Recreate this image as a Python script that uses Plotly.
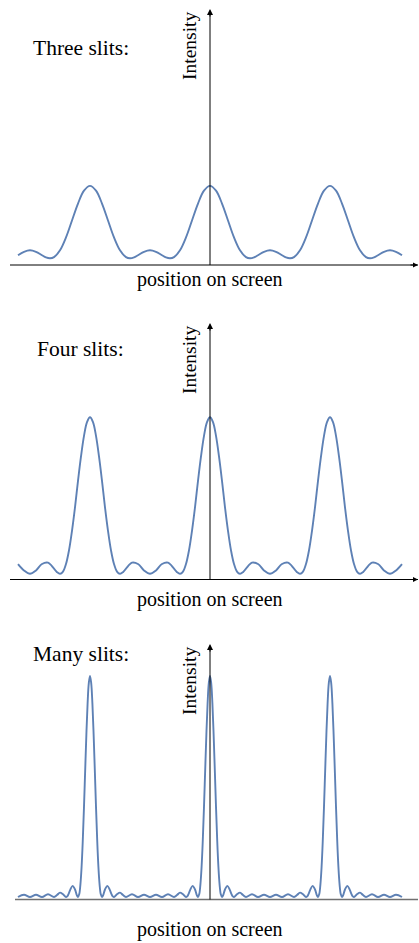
import plotly.graph_objects as go

# ---------------- data ----------------
# position on screen in units of the fringe spacing; intensity in arbitrary units
three_x = [-1.6, -1.55, -1.5, -1.45, -1.4, -1.367, -1.333, -1.3, -1.25, -1.2, -1.15, -1.1, -1.05, -1.0,
           -0.95, -0.9, -0.85, -0.8, -0.75, -0.7, -0.667, -0.633, -0.6, -0.55, -0.5,
           -0.45, -0.4, -0.367, -0.333, -0.3, -0.25, -0.2, -0.15, -0.1, -0.05, 0.0,
           0.05, 0.1, 0.15, 0.2, 0.25, 0.3, 0.333, 0.367, 0.4, 0.45, 0.5,
           0.55, 0.6, 0.633, 0.667, 0.7, 0.75, 0.8, 0.85, 0.9, 0.95, 1.0,
           1.05, 1.1, 1.15, 1.2, 1.25, 1.3, 1.333, 1.367, 1.4, 1.45, 1.5, 1.55, 1.6]
three_y = [0.38, 0.81, 1.0, 0.81, 0.38, 0.11, 0.0, 0.15, 1.0, 2.6, 4.7, 6.8, 8.4, 9.0,
           8.4, 6.8, 4.7, 2.6, 1.0, 0.15, 0.0, 0.11, 0.38, 0.81, 1.0,
           0.81, 0.38, 0.11, 0.0, 0.15, 1.0, 2.6, 4.7, 6.8, 8.4, 9.0,
           8.4, 6.8, 4.7, 2.6, 1.0, 0.15, 0.0, 0.11, 0.38, 0.81, 1.0,
           0.81, 0.38, 0.11, 0.0, 0.15, 1.0, 2.6, 4.7, 6.8, 8.4, 9.0,
           8.4, 6.8, 4.7, 2.6, 1.0, 0.15, 0.0, 0.11, 0.38, 0.81, 1.0, 0.81, 0.38]

four_x = [-1.6, -1.55, -1.5, -1.45, -1.4, -1.35, -1.3, -1.275, -1.25, -1.225, -1.2, -1.175, -1.15,
          -1.125, -1.1, -1.075, -1.05, -1.025,
          -1.0, -0.975, -0.95, -0.925, -0.9, -0.875, -0.85, -0.825, -0.8, -0.775, -0.75, -0.725,
          -0.7, -0.65, -0.6, -0.55, -0.5, -0.45, -0.4, -0.35, -0.3, -0.275, -0.25, -0.225, -0.2,
          -0.175, -0.15, -0.125, -0.1, -0.075, -0.05, -0.025,
          0.0, 0.025, 0.05, 0.075, 0.1, 0.125, 0.15, 0.175, 0.2, 0.225, 0.25, 0.275,
          0.3, 0.35, 0.4, 0.45, 0.5, 0.55, 0.6, 0.65, 0.7, 0.725, 0.75, 0.775, 0.8,
          0.825, 0.85, 0.875, 0.9, 0.925, 0.95, 0.975,
          1.0, 1.025, 1.05, 1.075, 1.1, 1.125, 1.15, 1.175, 1.2, 1.225, 1.25, 1.275,
          1.3, 1.35, 1.4, 1.45, 1.5, 1.55, 1.6]
four_y = [1.0, 0.35, 0.0, 0.35, 1.0, 1.14, 0.53, 0.17, 0.0, 0.23, 1.0, 2.4, 4.4,
          6.8, 9.5, 12.0, 14.1, 15.5,
          16.0, 15.5, 14.1, 12.0, 9.5, 6.8, 4.4, 2.4, 1.0, 0.23, 0.0, 0.17,
          0.53, 1.14, 1.0, 0.35, 0.0, 0.35, 1.0, 1.14, 0.53, 0.17, 0.0, 0.23, 1.0,
          2.4, 4.4, 6.8, 9.5, 12.0, 14.1, 15.5,
          16.0, 15.5, 14.1, 12.0, 9.5, 6.8, 4.4, 2.4, 1.0, 0.23, 0.0, 0.17,
          0.53, 1.14, 1.0, 0.35, 0.0, 0.35, 1.0, 1.14, 0.53, 0.17, 0.0, 0.23, 1.0,
          2.4, 4.4, 6.8, 9.5, 12.0, 14.1, 15.5,
          16.0, 15.5, 14.1, 12.0, 9.5, 6.8, 4.4, 2.4, 1.0, 0.23, 0.0, 0.17,
          0.53, 1.14, 1.0, 0.35, 0.0, 0.35, 1.0]

many_x = [-1.6, -1.55, -1.5, -1.45, -1.4, -1.35, -1.3, -1.275, -1.25, -1.225, -1.2, -1.19, -1.18,
          -1.165, -1.145, -1.125, -1.11, -1.1, -1.09, -1.08, -1.07, -1.06, -1.05, -1.04, -1.03,
          -1.02, -1.01,
          -1.0, -0.99, -0.98, -0.97, -0.96, -0.95, -0.94, -0.93, -0.92, -0.91,
          -0.9, -0.89, -0.875, -0.855, -0.835, -0.82, -0.81,
          -0.8, -0.775, -0.75, -0.725, -0.7, -0.65, -0.6, -0.55, -0.5,
          -0.45, -0.4, -0.35, -0.3, -0.275, -0.25, -0.225, -0.2,
          -0.19, -0.18, -0.165, -0.145, -0.125, -0.11,
          -0.1, -0.09, -0.08, -0.07, -0.06, -0.05, -0.04, -0.03, -0.02, -0.01,
          0.0, 0.01, 0.02, 0.03, 0.04, 0.05, 0.06, 0.07, 0.08, 0.09,
          0.1, 0.11, 0.125, 0.145, 0.165, 0.18, 0.19,
          0.2, 0.225, 0.25, 0.275, 0.3, 0.35, 0.4, 0.45, 0.5,
          0.55, 0.6, 0.65, 0.7, 0.725, 0.75, 0.775, 0.8,
          0.81, 0.82, 0.835, 0.855, 0.875, 0.89,
          0.9, 0.91, 0.92, 0.93, 0.94, 0.95, 0.96, 0.97, 0.98, 0.99,
          1.0, 1.01, 1.02, 1.03, 1.04, 1.05, 1.06, 1.07, 1.08, 1.09,
          1.1, 1.11, 1.125, 1.145, 1.165, 1.18, 1.19,
          1.2, 1.225, 1.25, 1.275, 1.3, 1.35, 1.4, 1.45, 1.5, 1.55, 1.6]
many_y = [0.0, 1.03, 0.0, 1.03, 0.0, 1.26, 0.0, 0.87, 2.0, 1.2, 0.0, 0.3, 1.2,
          3.2, 5.05, 3.4, 0.83, 0.0, 1.2, 5.6, 13.7, 25.8, 40.9, 57.6, 73.9,
          87.6, 96.8,
          100.0, 96.8, 87.6, 73.9, 57.6, 40.9, 25.8, 13.7, 5.6, 1.2,
          0.0, 0.83, 3.4, 5.05, 3.2, 1.2, 0.3,
          0.0, 1.2, 2.0, 0.87, 0.0, 1.26, 0.0, 1.03, 0.0,
          1.03, 0.0, 1.26, 0.0, 0.87, 2.0, 1.2, 0.0,
          0.3, 1.2, 3.2, 5.05, 3.4, 0.83,
          0.0, 1.2, 5.6, 13.7, 25.8, 40.9, 57.6, 73.9, 87.6, 96.8,
          100.0, 96.8, 87.6, 73.9, 57.6, 40.9, 25.8, 13.7, 5.6, 1.2,
          0.0, 0.83, 3.4, 5.05, 3.2, 1.2, 0.3,
          0.0, 1.2, 2.0, 0.87, 0.0, 1.26, 0.0, 1.03, 0.0,
          1.03, 0.0, 1.26, 0.0, 0.87, 2.0, 1.2, 0.0,
          0.3, 1.2, 3.2, 5.05, 3.4, 0.83,
          0.0, 1.2, 5.6, 13.7, 25.8, 40.9, 57.6, 73.9, 87.6, 96.8,
          100.0, 96.8, 87.6, 73.9, 57.6, 40.9, 25.8, 13.7, 5.6, 1.2,
          0.0, 0.83, 3.4, 5.05, 3.2, 1.2, 0.3,
          0.0, 1.2, 2.0, 0.87, 0.0, 1.26, 0.0, 1.03, 0.0, 1.03, 0.0]

panel_titles = ["Three slits:", "Four slits:", "Many slits:"]
y_label = "Intensity"
x_label = "position on screen"

# ---------------- layout (pixels) ----------------
W, H = 419, 943
CENTER_PX, PERIOD_PX = 210.0, 120.0
LINE_COLOR = "#5E81B5"
FONT = "Liberation Serif, Times New Roman, serif"

panels = [
    dict(x=three_x, y=three_y, tip=9, axis=265.0, zero=258.3, ppu=8.05, left=10, right=418,
         axcolor="black", axwidth=1, arrow=True, title_xy=(31, 48.5), ylab_y=46, xlab_y=279),
    dict(x=four_x, y=four_y, tip=323, axis=579.5, zero=573.8, ppu=9.78, left=10, right=418,
         axcolor="black", axwidth=1, arrow=True, title_xy=(35, 348.5), ylab_y=360, xlab_y=599),
    dict(x=many_x, y=many_y, tip=644, axis=899.5, zero=897.0, ppu=2.21, left=15, right=418,
         axcolor="#707070", axwidth=1.6, arrow=False, title_xy=(31, 653.5), ylab_y=681, xlab_y=929),
]

def py(px):
    return 1 - px / H

fig = go.Figure()
layout = dict(width=W, height=H, margin=dict(l=0, r=0, t=0, b=0),
              paper_bgcolor="white", plot_bgcolor="white", showlegend=False)
shapes, annotations = [], []

for i, p in enumerate(panels, start=1):
    xa = "xaxis" if i == 1 else f"xaxis{i}"
    ya = "yaxis" if i == 1 else f"yaxis{i}"
    xr = "x" if i == 1 else f"x{i}"
    yr = "y" if i == 1 else f"y{i}"
    x0 = (p["left"] - CENTER_PX) / PERIOD_PX
    x1 = (p["right"] - CENTER_PX) / PERIOD_PX
    y0 = -(p["axis"] - p["zero"]) / p["ppu"]
    y1 = (p["zero"] - p["tip"]) / p["ppu"]
    layout[xa] = dict(domain=[p["left"] / W, p["right"] / W], range=[x0, x1], anchor=yr,
                      visible=False, fixedrange=True)
    layout[ya] = dict(domain=[py(p["axis"]), py(p["tip"])], range=[y0, y1], anchor=xr,
                      visible=False, fixedrange=True)

    fig.add_trace(go.Scatter(x=p["x"], y=p["y"], mode="lines", xaxis=xr, yaxis=yr,
                             line=dict(color=LINE_COLOR, width=1.9, shape="spline", smoothing=1.0),
                             hoverinfo="skip"))

    # horizontal axis
    shapes.append(dict(type="line", xref=f"{xr} domain", yref=f"{yr} domain", x0=0, x1=1, y0=0, y1=0,
                       line=dict(color=p["axcolor"], width=p["axwidth"]), layer="above"))
    # vertical axis
    shapes.append(dict(type="line", xref=xr, yref=f"{yr} domain", x0=0, x1=0, y0=0, y1=0.985,
                       line=dict(color="black", width=1), layer="above"))
    # arrow heads
    annotations.append(dict(x=0, y=1, xref=xr, yref=f"{yr} domain", text="", showarrow=True,
                            ax=0, ay=9, arrowhead=2, arrowsize=1.2, arrowwidth=1,
                            arrowcolor="black", standoff=0))
    if p["arrow"]:
        annotations.append(dict(x=1, y=0, xref=f"{xr} domain", yref=f"{yr} domain", text="",
                                showarrow=True, ax=-9, ay=0, arrowhead=2, arrowsize=1.0,
                                arrowwidth=1, arrowcolor="black", standoff=0))
    # texts
    tx, ty = p["title_xy"]
    annotations.append(dict(x=tx / W, y=py(ty), xref="paper", yref="paper", text=panel_titles[i - 1],
                            showarrow=False, xanchor="left", yanchor="middle",
                            font=dict(family=FONT, size=21.5, color="black")))
    annotations.append(dict(x=189 / W, y=py(p["ylab_y"]), xref="paper", yref="paper", text=y_label,
                            textangle=-90, showarrow=False, xanchor="center", yanchor="middle",
                            font=dict(family=FONT, size=19.5, color="black")))
    annotations.append(dict(x=CENTER_PX / W, y=py(p["xlab_y"]), xref="paper", yref="paper",
                            text=x_label, showarrow=False, xanchor="center", yanchor="middle",
                            font=dict(family=FONT, size=20, color="black")))

layout["shapes"] = shapes
layout["annotations"] = annotations
fig.update_layout(**layout)
fig.write_html("out.html", config={"displayModeBar": False, "staticPlot": True},
               post_script="document.body.style.margin='0px';document.body.style.overflow='hidden';")
